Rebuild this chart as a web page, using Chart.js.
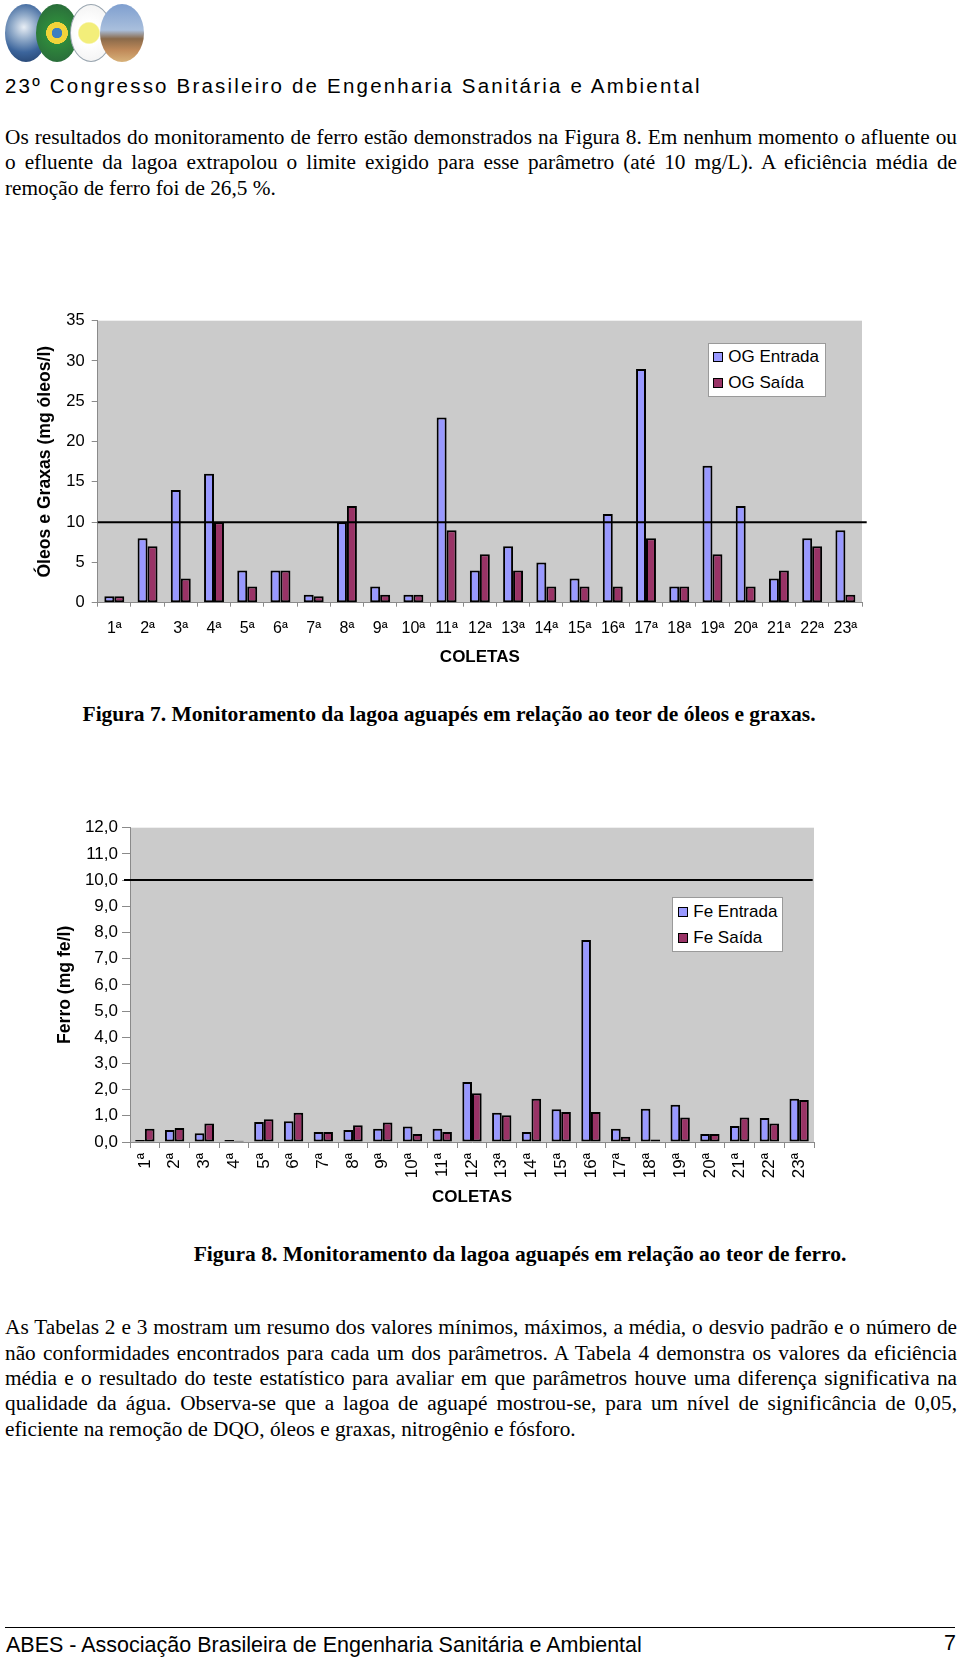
<!DOCTYPE html>
<html><head><meta charset="utf-8">
<script src="https://cdn.jsdelivr.net/npm/chart.js@4.4.1/dist/chart.umd.min.js"></script>
<style>
html,body{margin:0;padding:0;background:#fff;}
body{width:960px;height:1660px;position:relative;overflow:hidden;font-family:"Liberation Serif","Times New Roman",serif;color:#000;}
.abs{position:absolute;white-space:nowrap;}
.line{position:absolute;left:5px;width:952px;font-size:21.3px;line-height:25px;height:25px;white-space:nowrap;text-align:justify;text-align-last:justify;transform-origin:0 50%;}
.line.last{text-align-last:left;}
.sans{font-family:"Liberation Sans",Arial,sans-serif;}
.cap{font-weight:bold;font-size:21.5px;line-height:24px;}
.legend{position:absolute;background:#fff;border:1px solid #9a9a9a;box-sizing:border-box;font-family:"Liberation Sans",Arial,sans-serif;font-size:17px;}
.li{position:absolute;white-space:nowrap;line-height:20px;height:20px;}
.sw{position:absolute;width:10px;height:10px;border:1.5px solid #000;box-sizing:border-box;}
.ell{position:absolute;border-radius:50%;overflow:hidden;}
canvas{position:absolute;left:0;}
</style>
</head><body>

<!-- logo (decorative) -->
<div class="ell" style="left:5px;top:4px;width:42px;height:58px;background:radial-gradient(circle at 45% 40%,#e8eef5 0%,#8fa9c8 30%,#3c659c 60%,#1f3a63 100%);"></div>
<div class="ell" style="left:36px;top:4px;width:42px;height:58px;background:radial-gradient(circle at 50% 50%,#3d7fbf 0%,#3d7fbf 14%,#f2d43a 15%,#f2d43a 30%,#2f8a3c 31%,#2a6e3a 80%,#3a5f8a 100%);"></div>
<div class="ell" style="left:70px;top:4px;width:42px;height:58px;background:radial-gradient(circle at 45% 50%,#f3ee7a 0%,#f3ee7a 28%,#ffffff 32%,#f4f4f4 80%,#8aa0b8 100%);border:1px solid #9aa6b0;box-sizing:border-box;"></div>
<div class="ell" style="left:100px;top:4px;width:44px;height:58px;background:linear-gradient(180deg,#7f9fcf 0%,#a9bfdc 45%,#8a6a4a 60%,#c08a5a 80%,#d8b27a 100%);"></div>

<div class="abs sans" style="left:5px;top:74px;font-size:20.5px;line-height:24px;letter-spacing:2.2px;">23º Congresso Brasileiro de Engenharia Sanitária e Ambiental</div>

<div class="line" style="top:125px;">Os resultados do monitoramento de ferro estão demonstrados na Figura 8. Em nenhum momento o afluente ou</div>
<div class="line" style="top:150.3px;">o efluente da lagoa extrapolou o limite exigido para esse parâmetro (até 10 mg/L). A eficiência média de</div>
<div class="line last" style="top:175.6px;">remoção de ferro foi de 26,5 %.</div>

<canvas id="c1" width="960" height="390" style="top:290px;width:960px;height:390px;"></canvas>
<div id="leg1" class="legend" style="left:707.7px;top:343px;width:118.3px;height:54px;"></div>

<div class="abs cap" style="left:82.5px;top:702.4px;">Figura 7. Monitoramento da lagoa aguapés em relação ao teor de óleos e graxas.</div>

<canvas id="c2" width="960" height="430" style="top:790px;width:960px;height:430px;"></canvas>
<div id="leg2" class="legend" style="left:671.7px;top:897.3px;width:111.6px;height:54.7px;"></div>

<div class="abs cap" style="left:193.7px;top:1242px;">Figura 8. Monitoramento da lagoa aguapés em relação ao teor de ferro.</div>

<div class="line" style="top:1315.3px;">As Tabelas 2 e 3 mostram um resumo dos valores mínimos, máximos, a média, o desvio padrão e o número de</div>
<div class="line" style="top:1340.6px;">não conformidades encontrados para cada um dos parâmetros. A Tabela 4 demonstra os valores da eficiência</div>
<div class="line" style="top:1365.9px;">média e o resultado do teste estatístico para avaliar em que parâmetros houve uma diferença significativa na</div>
<div class="line" style="top:1391.2px;">qualidade da água. Observa-se que a lagoa de aguapé mostrou-se, para um nível de significância de 0,05,</div>
<div class="line last" style="top:1416.5px;">eficiente na remoção de DQO, óleos e graxas, nitrogênio e fósforo.</div>

<div class="abs" style="left:5px;top:1627px;width:950px;height:0;border-top:1.5px solid #000;"></div>
<div class="abs sans" style="left:6px;top:1633px;font-size:21.5px;line-height:24px;">ABES - Associação Brasileira de Engenharia Sanitária e Ambiental</div>
<div class="abs sans" style="left:944px;top:1631px;font-size:21.5px;line-height:24px;">7</div>

<script>
// ---------------- data ----------------
const categories = ['1ª','2ª','3ª','4ª','5ª','6ª','7ª','8ª','9ª','10ª','11ª','12ª','13ª','14ª','15ª','16ª','17ª','18ª','19ª','20ª','21ª','22ª','23ª'];
const ogLabels = ['OG Entrada','OG Saída'];
const ogEntrada = [0.8,8,14,16,4,4,1,10,2,1,23,4,7,5,3,11,29,2,17,12,3,8,9];
const ogSaida   = [0.8,7,3,10,2,4,0.8,12,1,1,9,6,4,2,2,2,8,2,6,2,4,7,1];
const ogLimit = 10;
const ogAxisMax = 35;
const ogAxisStep = 5;

const feLabels = ['Fe Entrada','Fe Saída'];
const feEntrada = [0.08,0.46,0.33,0.08,0.76,0.79,0.38,0.46,0.51,0.59,0.51,2.29,1.12,0.38,1.25,7.71,0.51,1.27,1.42,0.31,0.61,0.92,1.65];
const feSaida   = [0.51,0.53,0.71,0.05,0.87,1.12,0.38,0.64,0.74,0.31,0.38,1.86,1.02,1.65,1.15,1.15,0.20,0.10,0.94,0.31,0.94,0.71,1.60];
const feLimit = 10;
const feAxisMax = 12;
const feAxisStep = 1;

const colorIn = '#9999ff';
const colorOut = '#993366';
const sans = '"Liberation Sans", Arial, sans-serif';

// fit justified text lines that would overflow their box
document.querySelectorAll('.line').forEach(el => {
  const probe = document.createElement('span');
  probe.style.cssText = 'position:absolute;visibility:hidden;white-space:nowrap;font:' + getComputedStyle(el).font;
  probe.textContent = el.textContent;
  document.body.appendChild(probe);
  const natural = probe.getBoundingClientRect().width;
  probe.remove();
  const target = el.clientWidth;
  if (natural > target) {
    el.style.width = natural + 'px';
    el.style.transform = 'scaleX(' + (target / natural) + ')';
  }
});

// ---------------- plugins ----------------
const plotBg = {
  id: 'plotBg',
  beforeDraw(chart, args, o) {
    const {ctx, chartArea: a} = chart;
    ctx.save();
    ctx.fillStyle = o.color || '#cccccc';
    ctx.fillRect(a.left, a.top, a.right - a.left, a.bottom - a.top);
    ctx.restore();
  }
};
const limitLine = {
  id: 'limitLine',
  afterDatasetsDraw(chart, args, o) {
    const {ctx, chartArea: a} = chart;
    const y = chart.scales.y.getPixelForValue(o.value);
    ctx.save();
    ctx.strokeStyle = '#000';
    ctx.lineWidth = 2;
    ctx.beginPath();
    ctx.moveTo(a.left + (o.extLeft || 0), y);
    ctx.lineTo(a.right + (o.extRight || 0), y);
    ctx.stroke();
    ctx.restore();
  }
};

function barDs(label, data, color) {
  return {label, data, backgroundColor: color, borderColor: '#000', borderWidth: 2, borderSkipped: false};
}

function buildLegend(id, labels, colors, textLeft, swLeft, centers, boxLeft, boxTop) {
  const el = document.getElementById(id);
  labels.forEach((t, i) => {
    const sw = document.createElement('span');
    sw.className = 'sw';
    sw.style.background = colors[i];
    sw.style.left = (swLeft - boxLeft - 1) + 'px';
    sw.style.top = (centers[i] - boxTop - 1 - 5) + 'px';
    el.appendChild(sw);
    const d = document.createElement('div');
    d.className = 'li';
    d.textContent = t;
    d.style.left = (textLeft - boxLeft - 1) + 'px';
    d.style.top = (centers[i] - boxTop - 1 - 10) + 'px';
    el.appendChild(d);
  });
}

// ---------------- chart 1: Óleos e Graxas ----------------
new Chart(document.getElementById('c1'), {
  type: 'bar',
  data: {
    labels: categories,
    datasets: [barDs(ogLabels[0], ogEntrada, colorIn), barDs(ogLabels[1], ogSaida, colorOut)]
  },
  options: {
    responsive: false, animation: false, devicePixelRatio: 1,
    layout: {padding: {left: 0, top: 30.7, right: 98, bottom: 7.3}},
    datasets: {bar: {categoryPercentage: 0.6, barPercentage: 1}},
    plugins: {
      legend: {display: false}, tooltip: {enabled: false},
      plotBg: {color: '#cbcbcb'},
      limitLine: {value: ogLimit, extLeft: 0, extRight: 4.7}
    },
    scales: {
      x: {
        grid: {drawOnChartArea: false, drawTicks: true, tickLength: 4, color: '#8a8a8a'},
        border: {color: '#8a8a8a', width: 1},
        ticks: {color: '#000', font: {family: sans, size: 16}, padding: 12, minRotation: 0, maxRotation: 0, autoSkip: false},
        title: {display: true, text: 'COLETAS', color: '#000', font: {family: sans, size: 17, weight: 'bold'}, padding: {top: 0, bottom: 5.5}},
        afterFit: s => { s.height = 70; }
      },
      y: {
        min: 0, max: ogAxisMax,
        grid: {drawOnChartArea: false, drawTicks: true, tickLength: 6, color: '#8a8a8a'},
        border: {color: '#8a8a8a', width: 1},
        ticks: {stepSize: ogAxisStep, color: '#000', font: {family: sans, size: 16.5}, padding: 7},
        title: {display: true, text: 'Óleos e Graxas (mg óleos/l)', color: '#000', font: {family: sans, size: 17.6, weight: 'bold'}, padding: {top: 34.5, bottom: 0}},
        afterFit: s => { s.width = 97.7; }
      }
    }
  },
  plugins: [plotBg, limitLine]
});
buildLegend('leg1', ogLabels, [colorIn, colorOut], 728.3, 713, [356.7, 383.3], 707.7, 343);

// ---------------- chart 2: Ferro ----------------
new Chart(document.getElementById('c2'), {
  type: 'bar',
  data: {
    labels: categories,
    datasets: [barDs(feLabels[0], feEntrada, colorIn), barDs(feLabels[1], feSaida, colorOut)]
  },
  options: {
    responsive: false, animation: false, devicePixelRatio: 1,
    layout: {padding: {left: 0, top: 37.7, right: 146, bottom: 0}},
    datasets: {bar: {categoryPercentage: 0.65, barPercentage: 1}},
    plugins: {
      legend: {display: false}, tooltip: {enabled: false},
      plotBg: {color: '#cbcbcb'},
      limitLine: {value: feLimit, extLeft: -6, extRight: -1.3}
    },
    scales: {
      x: {
        grid: {drawOnChartArea: false, drawTicks: true, tickLength: 6, color: '#8a8a8a'},
        border: {color: '#8a8a8a', width: 1},
        ticks: {color: '#000', font: {family: sans, size: 17}, padding: 5, minRotation: 90, maxRotation: 90, autoSkip: false},
        title: {display: true, text: 'COLETAS', color: '#000', font: {family: sans, size: 17, weight: 'bold'}, padding: {top: 0, bottom: 12.8}},
        afterFit: s => { s.height = 78; }
      },
      y: {
        min: 0, max: feAxisMax,
        grid: {drawOnChartArea: false, drawTicks: true, tickLength: 8, color: '#8a8a8a'},
        border: {color: '#8a8a8a', width: 1},
        ticks: {stepSize: feAxisStep, color: '#000', font: {family: sans, size: 17}, padding: 4,
                callback: v => Number(v).toFixed(1).replace('.', ',')},
        title: {display: true, text: 'Ferro (mg fe/l)', color: '#000', font: {family: sans, size: 17.6, weight: 'bold'}, padding: {top: 54.5, bottom: 0}},
        afterFit: s => { s.width = 130; }
      }
    }
  },
  plugins: [plotBg, limitLine]
});
buildLegend('leg2', feLabels, [colorIn, colorOut], 693.3, 678, [911.7, 938.3], 671.7, 897.3);
</script>
</body></html>
